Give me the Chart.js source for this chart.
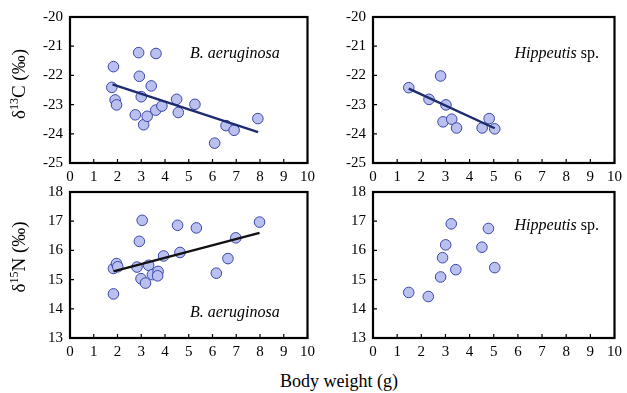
<!DOCTYPE html>
<html>
<head>
<meta charset="utf-8">
<script src="https://cdn.jsdelivr.net/npm/chart.js@4.4.0/dist/chart.umd.min.js"></script>
<style>
body{margin:0;width:627px;height:393px;background:#fff;position:relative;overflow:hidden;font-family:"Liberation Serif","Times New Roman",Times,serif;color:#000;}
canvas{position:absolute;}
.note{position:absolute;font-size:16px;white-space:nowrap;line-height:1;transform:translateY(-50%);}
.note i{font-style:italic;}
.ytitle{position:absolute;font-size:19px;white-space:nowrap;line-height:1;transform:translate(-50%,-50%) rotate(-90deg);}
.ytitle sup{font-size:12px;vertical-align:7px;line-height:0;}
.xtitle{position:absolute;font-size:18px;white-space:nowrap;line-height:1;transform:translate(-50%,-50%);}
</style>
</head>
<body>
<canvas id="c1" width="320" height="190" style="left:0;top:0"></canvas>
<canvas id="c2" width="327" height="190" style="left:300px;top:0"></canvas>
<canvas id="c3" width="320" height="190" style="left:0;top:175px"></canvas>
<canvas id="c4" width="327" height="190" style="left:300px;top:175px"></canvas>

<div class="ytitle" style="left:18px;top:84px">δ<sup>13</sup>C (‰)</div>
<div class="ytitle" style="left:18px;top:257px">δ<sup>15</sup>N (‰)</div>
<div class="xtitle" style="left:339px;top:381px">Body weight (g)</div>
<div class="note" style="left:190px;top:53px"><i>B. aeruginosa</i></div>
<div class="note" style="right:28px;top:53px"><i>Hippeutis</i> sp.</div>
<div class="note" style="left:190px;top:312px"><i>B. aeruginosa</i></div>
<div class="note" style="right:28px;top:225px"><i>Hippeutis</i> sp.</div>

<script>
// B. aeruginosa, delta 13C
const weightBaC = [1.83, 1.76, 1.90, 1.96, 2.89, 2.92, 3.00, 2.75, 3.10, 3.25, 3.42, 3.62, 3.61, 3.87, 4.49, 4.56, 5.26, 6.09, 6.57, 6.91, 7.91];
const d13cBa = [-21.70, -22.41, -22.84, -23.01, -21.22, -22.03, -22.73, -23.35, -23.69, -23.40, -22.36, -21.25, -23.19, -23.05, -22.82, -23.27, -22.99, -24.32, -23.72, -23.88, -23.48];
const fitBaCx = [1.79, 7.92];
const fitBaCy = [-22.31, -23.94];

// Hippeutis sp., delta 13C
const weightHiC = [1.48, 2.32, 2.80, 3.02, 2.90, 3.26, 3.46, 4.52, 4.81, 5.04];
const d13cHi = [-22.42, -22.82, -22.02, -23.01, -23.59, -23.50, -23.80, -23.80, -23.48, -23.83];
const fitHiCx = [1.48, 5.04];
const fitHiCy = [-22.45, -23.81];

// B. aeruginosa, delta 15N
const weightBaN = [1.83, 1.83, 1.96, 2.01, 2.82, 2.92, 3.04, 2.99, 3.18, 3.31, 3.47, 3.71, 3.69, 3.94, 4.53, 4.63, 5.32, 6.16, 6.65, 6.98, 7.98];
const d15nBa = [14.51, 15.38, 15.55, 15.44, 15.43, 16.31, 17.03, 15.03, 14.88, 15.49, 15.17, 15.28, 15.13, 15.81, 16.86, 15.93, 16.77, 15.22, 15.72, 16.43, 16.97];
const fitBaNx = [1.83, 7.98];
const fitBaNy = [15.28, 16.60];

// Hippeutis sp., delta 15N
const weightHiN = [1.48, 2.29, 2.80, 2.88, 3.01, 3.24, 3.43, 4.51, 4.78, 5.04];
const d15nHi = [14.56, 14.42, 15.09, 15.75, 16.19, 16.91, 15.34, 16.11, 16.75, 15.41];

const xTicks = [0, 10, 1];     // min, max, step
const cTicks = [-25, -20, 1];
const nTicks = [13, 18, 1];

const tickFont = {family: '"Liberation Serif", "Times New Roman", serif', size: 15};

function pairs(xs, ys){
    return xs.map((x, i) => ({x: x, y: ys[i]}));
}

// box round the plot area plus small inward ticks
const framePlugin = {
    id: 'frame',
    afterDraw(chart){
        const ctx = chart.ctx;
        const a = chart.chartArea;
        const xs = chart.scales.x, ys = chart.scales.y;
        ctx.save();
        ctx.strokeStyle = '#000';
        ctx.lineWidth = 1.2;
        ctx.beginPath();
        xs.ticks.forEach(t => {
            const px = xs.getPixelForValue(t.value);
            ctx.moveTo(px, a.bottom);
            ctx.lineTo(px, a.bottom - 4);
        });
        ys.ticks.forEach(t => {
            const py = ys.getPixelForValue(t.value);
            ctx.moveTo(a.left, py);
            ctx.lineTo(a.left + 4, py);
        });
        ctx.stroke();
        ctx.lineWidth = 2.2;
        ctx.strokeRect(a.left, a.top, a.right - a.left, a.bottom - a.top);
        ctx.restore();
    }
};

function makePanel(id, pts, fit, fitColor, yr, yWidth, padRight){
    const datasets = [];
    if (fit) {
        datasets.push({
            type: 'line',
            data: fit,
            borderColor: fitColor,
            borderWidth: 2.4,
            pointRadius: 0,
            fill: false,
            order: 0
        });
    }
    datasets.push({
        type: 'scatter',
        data: pts,
        backgroundColor: '#bac1ef',
        borderColor: '#3a46a8',
        borderWidth: 1,
        pointRadius: 5.3,
        order: 1
    });
    new Chart(document.getElementById(id), {
        type: 'scatter',
        data: {datasets: datasets},
        options: {
            responsive: false,
            animation: false,
            layout: {padding: {top: 17, right: padRight, left: 0, bottom: 0}},
            plugins: {legend: {display: false}, tooltip: {enabled: false}},
            scales: {
                x: {
                    type: 'linear',
                    min: xTicks[0], max: xTicks[1],
                    ticks: {stepSize: xTicks[2], padding: 5, color: '#000', font: tickFont},
                    grid: {display: false, drawTicks: false},
                    border: {display: false},
                    afterFit(s){ s.height = 27; }
                },
                y: {
                    min: yr[0], max: yr[1],
                    ticks: {stepSize: yr[2], padding: 7, color: '#000', font: tickFont},
                    grid: {display: false, drawTicks: false},
                    border: {display: false},
                    afterFit(s){ s.width = yWidth; }
                }
            }
        },
        plugins: [framePlugin]
    });
}

function drawAll(){
    makePanel('c1', pairs(weightBaC, d13cBa), pairs(fitBaCx, fitBaCy), '#1c2a70', cTicks, 70, 8);
    makePanel('c2', pairs(weightHiC, d13cHi), pairs(fitHiCx, fitHiCy), '#1c2a70', cTicks, 73, 11);
    makePanel('c3', pairs(weightBaN, d15nBa), pairs(fitBaNx, fitBaNy), '#111111', nTicks, 70, 8);
    makePanel('c4', pairs(weightHiN, d15nHi), null, null, nTicks, 73, 11);
}

Promise.all([
    document.fonts.load('15px "Liberation Serif"'),
    document.fonts.load('italic 16px "Liberation Serif"')
]).then(drawAll, drawAll);
</script>
</body>
</html>
